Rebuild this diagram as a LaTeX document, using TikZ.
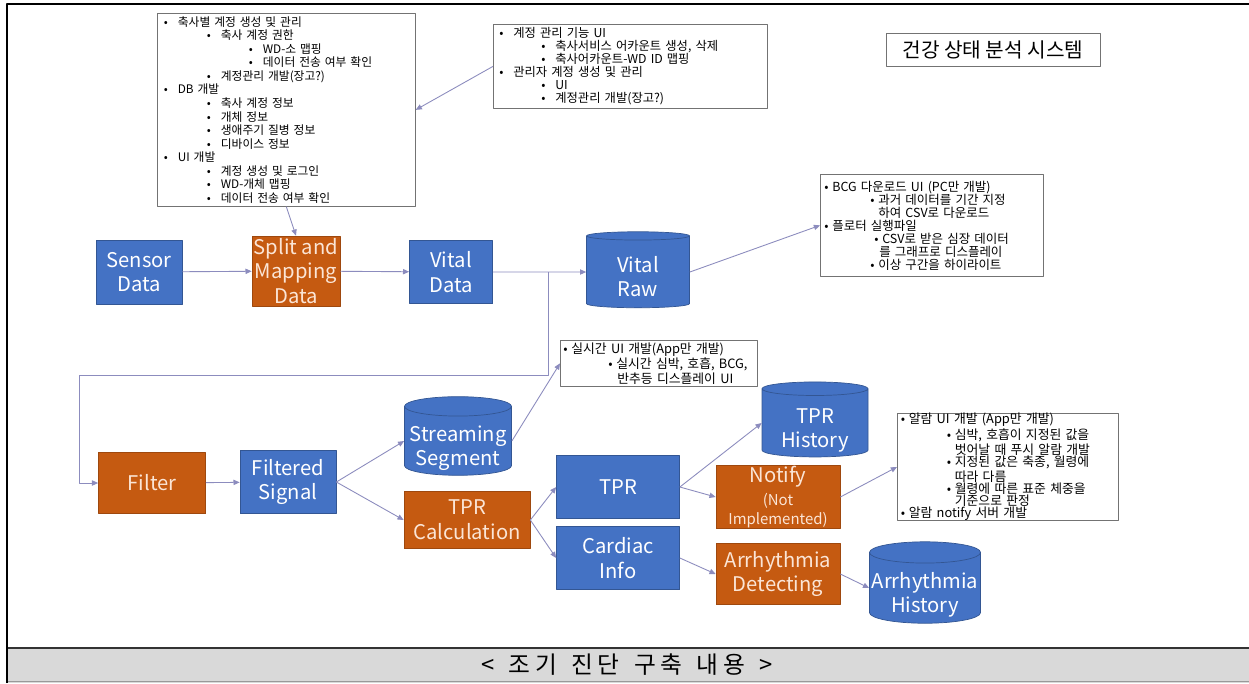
\documentclass[tikz,border=0pt]{standalone}
\usepackage{fontspec}
\setmainfont{Noto Sans CJK KR}
\usetikzlibrary{arrows.meta,shapes.geometric,positioning}
\definecolor{boxblue}{RGB}{68,114,196}
\definecolor{boxorange}{RGB}{197,90,17}
\definecolor{peach}{RGB}{251,229,214}
\definecolor{linkcol}{RGB}{140,140,190}
\definecolor{capgray}{RGB}{217,217,217}
\newcommand{\itm}[2]{\hspace*{#1}\makebox[2.8mm][l]{•}#2}
\newcommand{\itc}[2]{\hspace*{#1}\makebox[1.6mm][l]{•}#2}
\newcommand{\cnt}[2]{\hspace*{#1}#2}
\newcommand{\gs}{\hspace{0.9mm}}
\newcommand{\gw}{\hspace{2.9mm}}
% two lines set a little lower than the middle of a cylinder
\newcommand{\low}[2]{\raisebox{-1.5mm}[\height][\depth]{\begin{tabular}{@{}c@{}}#1\\#2\end{tabular}}}
\begin{document}
\begin{tikzpicture}[x=0.2mm, y=-0.2mm, line join=round,
  proc/.style={rectangle, draw=boxblue!75!black, fill=boxblue, text=white, align=center,
    font=\fontsize{11.5}{14}\selectfont, inner sep=0pt},
  work/.style={proc, draw=boxorange!80!black, fill=boxorange, text=peach},
  store/.style={cylinder, shape border rotate=90, aspect=0.2, draw=boxblue!75!black,
    fill=boxblue, text=white, font=\fontsize{11.5}{14}\selectfont, inner sep=0pt},
  note/.style={rectangle, draw=black!55, fill=white, anchor=north west, align=left, inner sep=0pt},
  link/.style={draw=linkcol, line width=0.5pt, -{Triangle[length=3.5pt,width=3pt]}}]
\useasboundingbox (0,0) rectangle (1249,683);
\fill[white] (0,0) rectangle (1249,683);
% frame and caption band
\fill[capgray] (7,648) rectangle (1249,683);
\draw[black!80, line width=0.8pt] (7,648) -- (1249,648);
\draw[black!40] (7,681) -- (1249,681);
\draw[black, line width=0.7pt] (7,683) -- (7,4) -- (1249,4);
\node (caption) at (627,665) {\fontsize{13.5}{15}\selectfont <\gw 조\gs 기\gw 진\gs 단\gw 구\gs 축\gw 내\gs 용\gw >};

% notes
\node[note, minimum width=51.6mm, minimum height=38.6mm, text width=49mm,
  font=\fontsize{6.7}{7.7}\selectfont] (acct) at (157,13) {%
\itm{0mm}{축사별 계정 생성 및 관리}\\
\itm{8.6mm}{축사 계정 권한}\\
\itm{17mm}{WD-소 맵핑}\\
\itm{17mm}{데이터 전송 여부 확인}\\
\itm{8.6mm}{계정관리 개발(장고?)}\\
\itm{0mm}{DB 개발}\\
\itm{8.6mm}{축사 계정 정보}\\
\itm{8.6mm}{개체 정보}\\
\itm{8.6mm}{생애주기 질병 정보}\\
\itm{8.6mm}{디바이스 정보}\\
\itm{0mm}{UI 개발}\\
\itm{8.6mm}{계정 생성 및 로그인}\\
\itm{8.6mm}{WD-개체 맵핑}\\
\itm{8.6mm}{데이터 전송 여부 확인}};
\node[note, minimum width=54.8mm, minimum height=16.8mm, text width=52.4mm,
  font=\fontsize{7}{7.4}\selectfont] (mgmt) at (493,24) {%
\itm{0mm}{계정 관리 기능 UI}\\
\itm{8.4mm}{축사서비스 어카운트 생성, 삭제}\\
\itm{8.4mm}{축사어카운트-WD ID 맵핑}\\
\itm{0mm}{관리자 계정 생성 및 관리}\\
\itm{8.4mm}{UI}\\
\itm{8.4mm}{계정관리 개발(장고?)}};
\node[note, minimum width=44.6mm, minimum height=20.4mm, text width=43mm,
  font=\fontsize{7.1}{7.4}\selectfont] (bcg) at (820,174) {%
\itc{0mm}{BCG 다운로드 UI (PC만 개발)}\\
\itc{9.2mm}{과거 데이터를 기간 지정}\\
\cnt{10.8mm}{하여 CSV로 다운로드}\\
\itc{0mm}{플로터 실행파일}\\
\itc{10mm}{CSV로 받은 심장 데이터}\\
\cnt{11mm}{를 그래프로 디스플레이}\\
\itc{9.2mm}{이상 구간을 하이라이트}};
\node[note, minimum width=39.4mm, minimum height=9.2mm, text width=38.2mm,
  font=\fontsize{7.3}{6.8}\selectfont] (live) at (560,340) {%
\itc{0mm}{실시간 UI 개발(App만 개발)}\\
\itc{9mm}{실시간 심박, 호흡, BCG,}\\
\cnt{10.8mm}{반추등 디스플레이 UI}};
\node[note, minimum width=44.2mm, minimum height=21.4mm, text width=42.8mm,
  font=\fontsize{7.3}{6.9}\selectfont] (alarm) at (897,413) {%
\itc{0mm}{알람 UI 개발 (App만 개발)}\\
\itc{9.2mm}{심박, 호흡이 지정된 값을}\\
\cnt{10.8mm}{벗어날 때 푸시 알람 개발}\\
\itc{9.2mm}{지정된 값은 축종, 월령에}\\
\cnt{10.8mm}{따라 다름}\\
\itc{9.2mm}{월령에 따른 표준 체중을}\\
\cnt{10.8mm}{기준으로 판정}\\
\itc{0mm}{알람 notify 서버 개발}};
\node[draw=black!55, minimum width=42.8mm, minimum height=6.6mm, inner sep=0pt,
  font=\fontsize{11.5}{13}\selectfont] (title) at (993,50) {건강 상태 분석 시스템};

% top row
\node[proc, minimum width=17.2mm, minimum height=12.8mm] (sensor) at (139,272) {Sensor\\Data};
\node[work, minimum width=17.6mm, minimum height=14mm] (split) at (296,271) {Split and\\Mapping\\Data};
\node[proc, minimum width=16.6mm, minimum height=12.6mm] (vdata) at (451,272) {Vital\\Data};
\node[store, minimum width=20.6mm, minimum height=15.2mm] (vraw) at (638,272) {\low{Vital}{Raw}};

% bottom part
\node[work, minimum width=21.4mm, minimum height=12.2mm] (filter) at (152,483) {Filter};
\node[proc, minimum width=19.2mm, minimum height=12.6mm] (fsig) at (288,482) {Filtered\\Signal};
\node[store, minimum width=21.4mm, minimum height=14.4mm] (stream) at (458,441) {\low{Streaming}{Segment}};
\node[work, minimum width=25.2mm, minimum height=11.4mm] (tprc) at (467,520) {TPR\\Calculation};
\node[proc, minimum width=24.6mm, minimum height=12.6mm] (tpr) at (618,487) {TPR};
\node[proc, minimum width=24.6mm, minimum height=12.6mm] (cardiac) at (618,558) {Cardiac\\Info};
\node[store, minimum width=21.2mm, minimum height=15mm] (tprh) at (815,423) {\low{TPR}{History}};
\node[work, minimum width=24.8mm, minimum height=12.6mm] (notify) at (778,497)
  {Notify\\[-1pt]{\fontsize{8.5}{10}\selectfont (Not}\\[-3pt]{\fontsize{8.5}{10}\selectfont Implemented)}};
\node[work, minimum width=24.8mm, minimum height=12.2mm] (arrd) at (778,574) {Arrhythmia\\Detecting};
\node[store, minimum width=22.2mm, minimum height=14.2mm] (arrh) at (925,588) {\low{Arrhythmia}{History}};

\coordinate (tap) at (548,272);
\coordinate (back) at (79,375);

\draw[link] (mgmt.west) -- (acct.east);
\draw[link] (acct.south) -- (split.north);
\draw[link] (sensor) -- (split);
\draw[link] (split) -- (vdata);
\draw[link] (vdata) -- (vraw);
\draw[link] (vraw.east) -- (bcg.west);
\draw[link] (tap) |- (back) |- (filter.west);
\draw[link] (filter) -- (fsig);
\draw[link] (fsig.east) -- (stream.west);
\draw[link] (fsig.east) -- (tprc.west);
\draw[link] (stream.east) -- (live.west);
\draw[link] (tprc.east) -- (tpr.west);
\draw[link] (tprc.east) -- (cardiac.west);
\draw[link] (tpr.east) -- (tprh.west);
\draw[link] (tpr.east) -- (notify.west);
\draw[link] (notify.east) -- (alarm.west);
\draw[link] (cardiac.east) -- (arrd.west);
\draw[link] (arrd.east) -- (arrh.west);
\end{tikzpicture}
\end{document}
